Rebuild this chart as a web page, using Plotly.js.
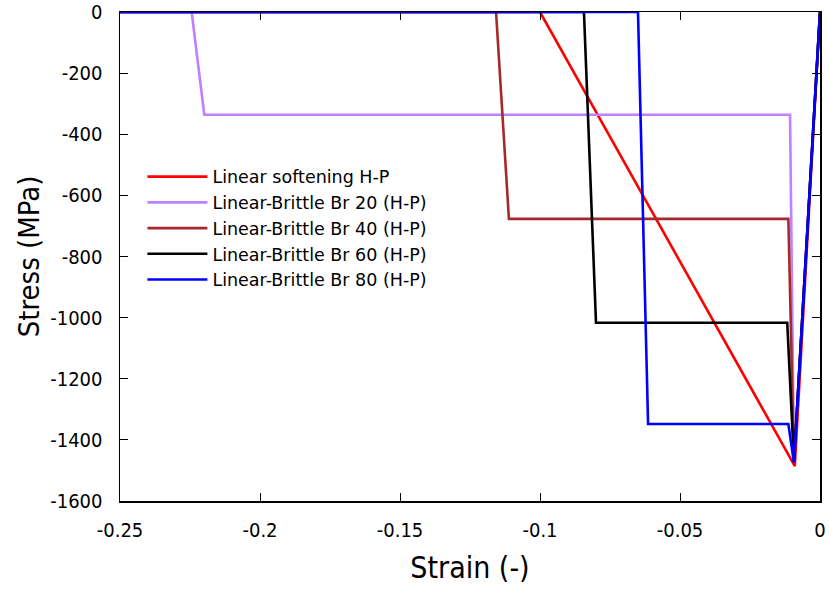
<!DOCTYPE html>
<html>
<head>
<meta charset="utf-8">
<script src="https://cdn.plot.ly/plotly-3.0.1.min.js"></script>
<style>
html,body{margin:0;padding:0;background:#fff}
#chart{width:829px;height:590px}
</style>
</head>
<body>
<div id="chart"></div>
<script>
// Series names
var seriesNames = ["Linear softening H-P", "Linear-Brittle Br 20 (H-P)", "Linear-Brittle Br 40 (H-P)", "Linear-Brittle Br 60 (H-P)", "Linear-Brittle Br 80 (H-P)"];
var seriesColors = ["#ff0000", "#c080ff", "#a52a2a", "#000000", "#0000ff"];

// Strain (-) and stress (MPa) for each curve
var strainSoft = [0, -0.009, -0.100, -0.25];
var stressSoft = [0, -1486, 0, 0];

var strainBr20 = [0, -0.0093, -0.0107, -0.2199, -0.2244, -0.25];
var stressBr20 = [0, -1472, -336, -336, 0, 0];

var strainBr40 = [0, -0.0093, -0.0113, -0.1111, -0.1157, -0.25];
var stressBr40 = [0, -1472, -677, -677, 0, 0];

var strainBr60 = [0, -0.0093, -0.0117, -0.0800, -0.0843, -0.25];
var stressBr60 = [0, -1472, -1017, -1017, 0, 0];

var strainBr80 = [0, -0.0093, -0.0113, -0.0614, -0.0650, -0.25];
var stressBr80 = [0, -1474, -1348, -1348, 0, 0];

var xs = [strainSoft, strainBr20, strainBr40, strainBr60, strainBr80];
var ys = [stressSoft, stressBr20, stressBr40, stressBr60, stressBr80];

var xTicks = [-0.25, -0.2, -0.15, -0.1, -0.05, 0];
var xTickText = ["-0.25", "-0.2", "-0.15", "-0.1", "-0.05", "0"];
var yTicks = [-1600, -1400, -1200, -1000, -800, -600, -400, -200, 0];
var yTickText = ["-1600", "-1400", "-1200", "-1000", "-800", "-600", "-400", "-200", "0"];

var traces = xs.map(function(x, i){
  return {x: x, y: ys[i], type: "scatter", mode: "lines", name: seriesNames[i],
    line: {color: seriesColors[i], width: 2.6}};
});

var font = "DejaVu Sans Condensed, DejaVu Sans, sans-serif";
var layout = {
  width: 829, height: 590,
  margin: {l: 120, r: 9, t: 12, b: 89},
  paper_bgcolor: "#fff", plot_bgcolor: "#fff",
  font: {family: font, size: 20, color: "#000"},
  showlegend: true,
  legend: {x: 0.032, y: 0.70, xanchor: "left", yanchor: "top", bgcolor: "rgba(0,0,0,0)",
    font: {family: "DejaVu Sans, sans-serif", size: 17.5, color: "#000"}, itemwidth: 60, tracegroupgap: 0},
  xaxis: {range: [-0.25, 0], tickvals: xTicks, ticktext: xTickText, ticks: "inside", ticklen: 8,
    tickcolor: "#000", showline: true, linecolor: "#000", linewidth: 1.5, mirror: "ticks",
    showgrid: false, zeroline: false, ticklabelstandoff: 10, ticklabeloverflow: "allow",
    title: {text: "Strain (-)", font: {size: 30}, standoff: 16},
    tickfont: {size: 20}},
  yaxis: {range: [-1600, 0], tickvals: yTicks, ticktext: yTickText, ticks: "inside", ticklen: 8,
    tickcolor: "#000", showline: true, linecolor: "#000", linewidth: 1.5, mirror: "ticks",
    showgrid: false, zeroline: false, ticklabelstandoff: 12, ticklabeloverflow: "allow",
    title: {text: "Stress (MPa)", font: {size: 29}, standoff: 2},
    tickfont: {size: 20}}
};
Plotly.newPlot("chart", traces, layout, {displayModeBar: false, staticPlot: true});
</script>
</body>
</html>
